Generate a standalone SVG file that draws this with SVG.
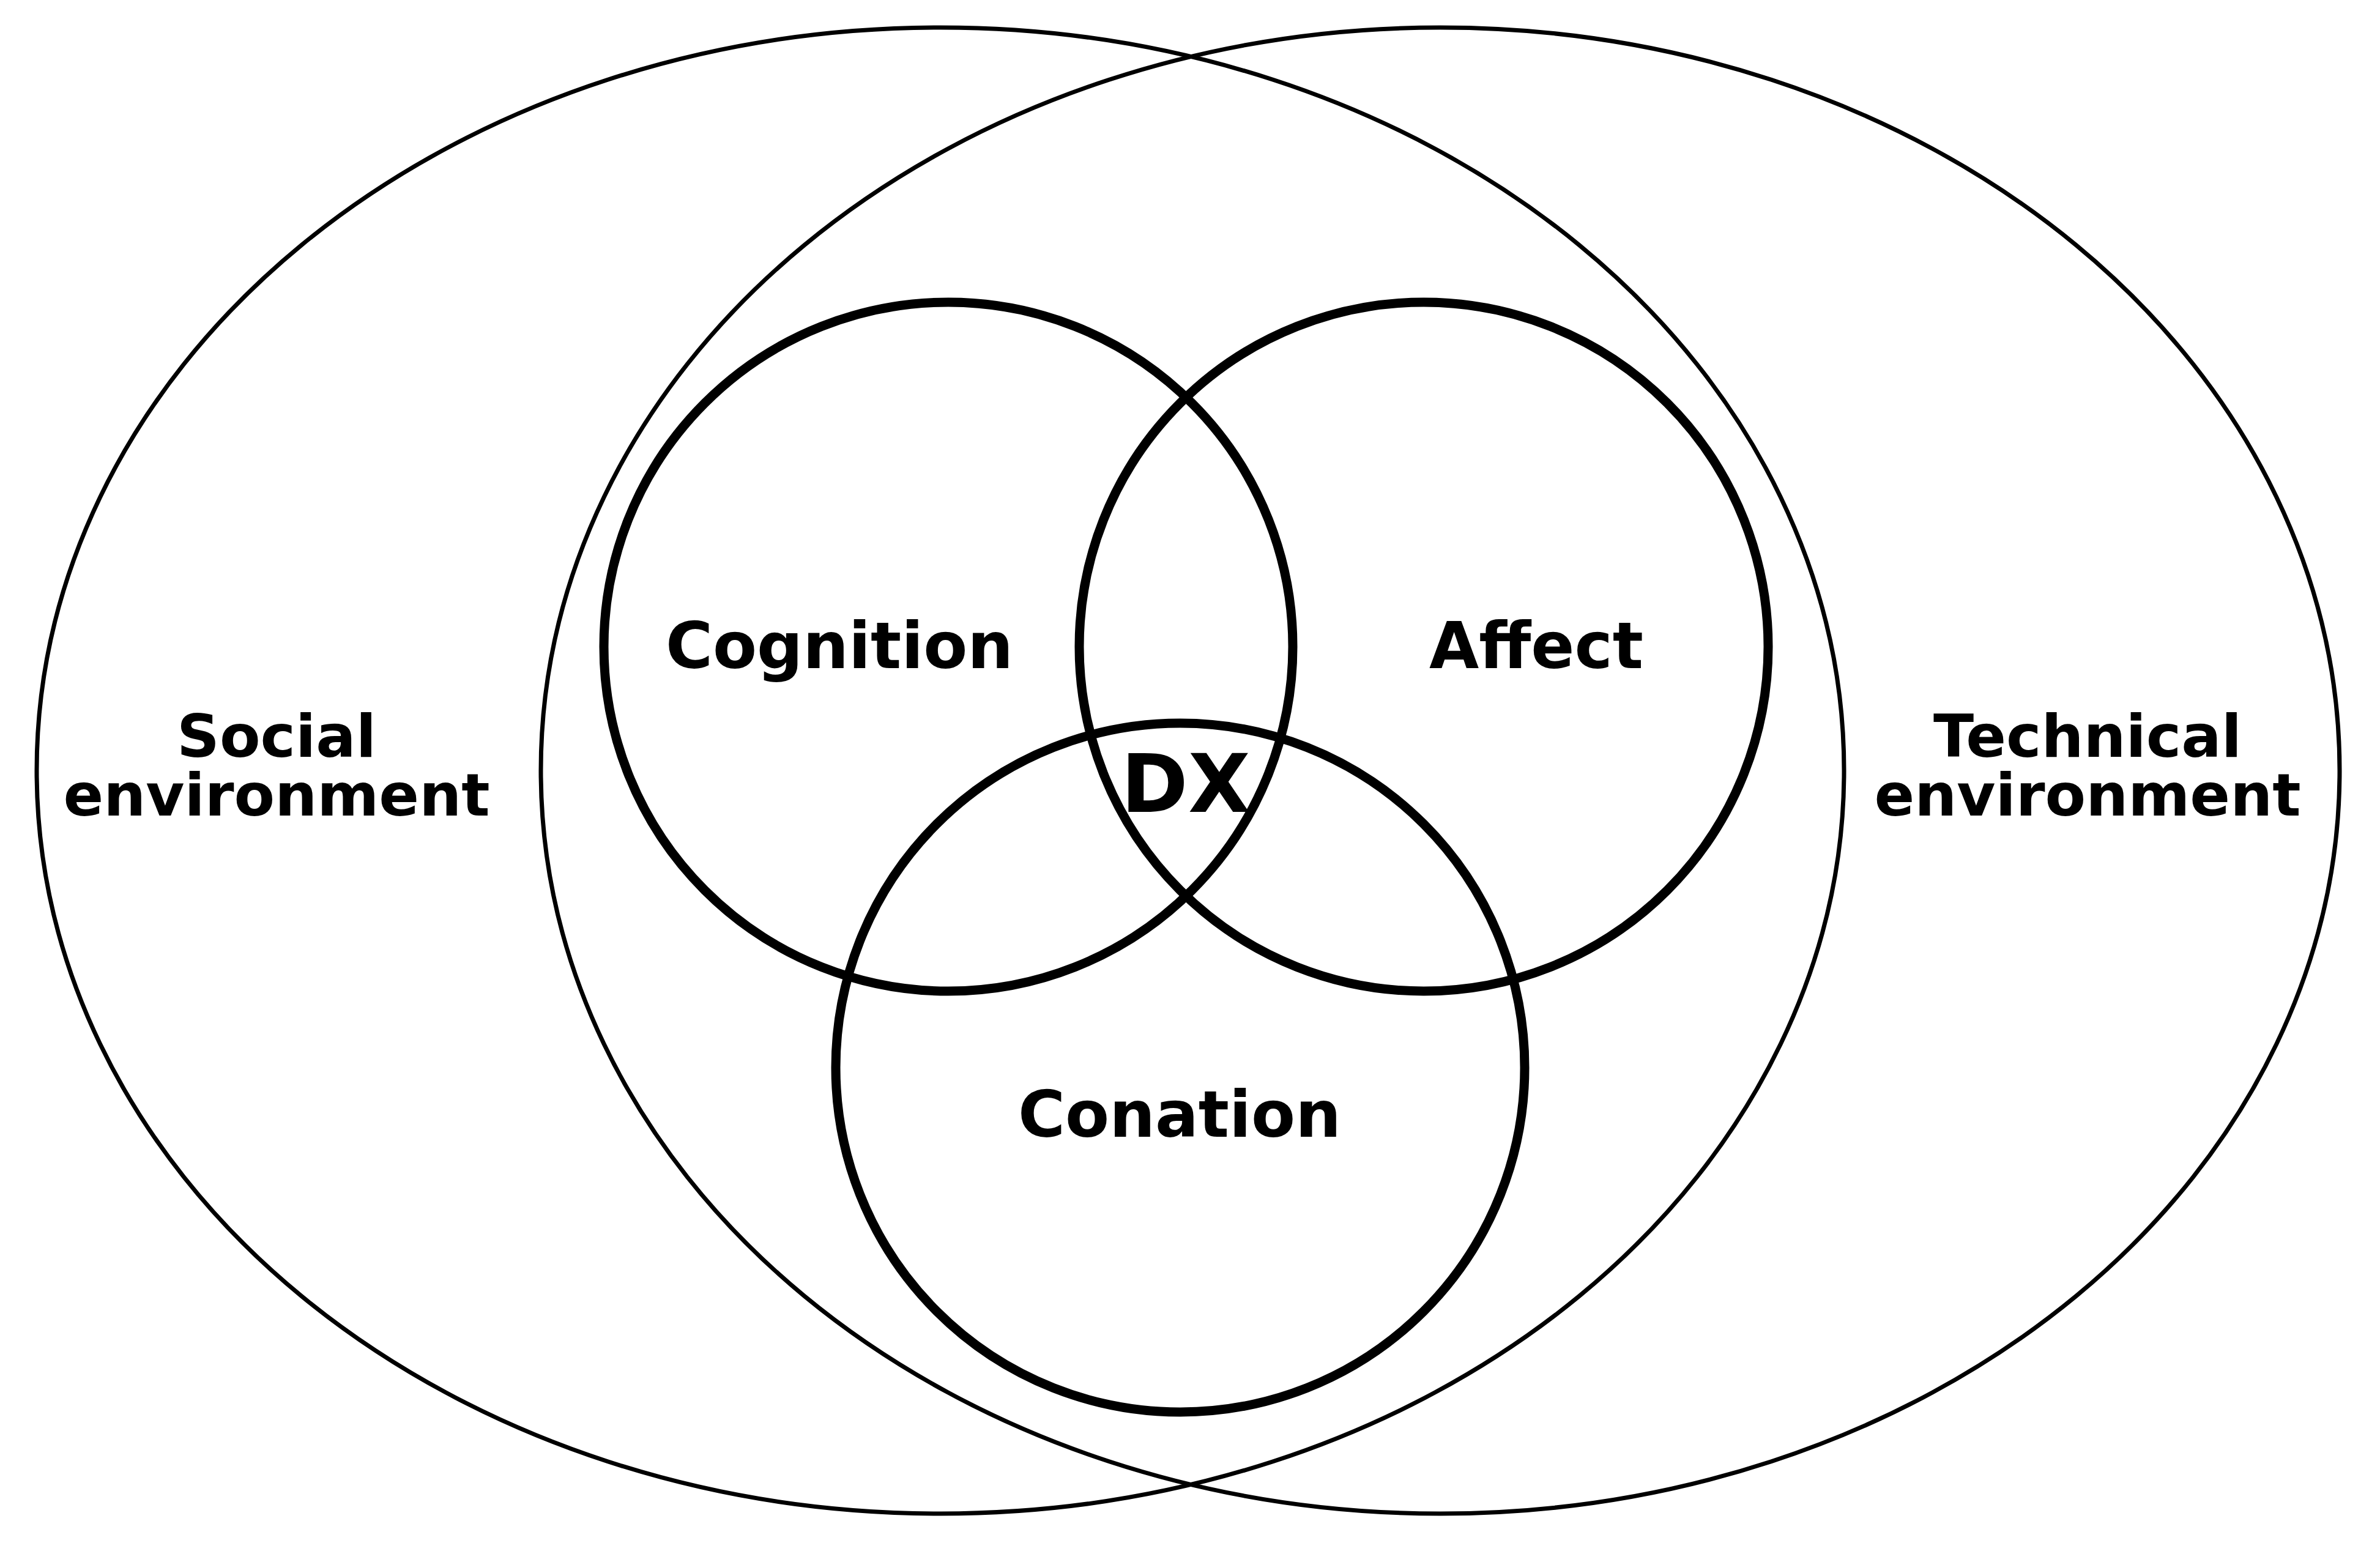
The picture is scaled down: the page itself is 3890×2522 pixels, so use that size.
<svg xmlns="http://www.w3.org/2000/svg" width="3890" height="2522" viewBox="0 0 3890 2522">
<style>
.env{fill:none;stroke:#000;stroke-width:7}
.dim{fill:none;stroke:#000;stroke-width:15}
text{font-family:"DejaVu Sans","Liberation Sans",sans-serif;font-weight:bold;fill:#000;text-anchor:middle}
.lab{font-size:105px}
.envt{font-size:97px}
.dx{font-size:132px}
</style>
<rect width="3890" height="2522" fill="#fff"/>
<g id="social-environment">
<ellipse class="env" cx="1537" cy="1259.5" rx="1477" ry="1214.5"/>
<text class="envt" x="452" y="1237">Social</text>
<text class="envt" x="452" y="1333">environment</text>
</g>
<g id="technical-environment">
<ellipse class="env" cx="2354" cy="1259.5" rx="1470" ry="1214.5"/>
<text class="envt" x="3412" y="1237">Technical</text>
<text class="envt" x="3412" y="1333">environment</text>
</g>
<g id="cognition">
<circle class="dim" cx="1550" cy="1057" r="563"/>
<text class="lab" x="1372" y="1092">Cognition</text>
</g>
<g id="affect">
<circle class="dim" cx="2327" cy="1057" r="563"/>
<text class="lab" x="2511" y="1092">Affect</text>
</g>
<g id="conation">
<circle class="dim" cx="1929" cy="1745" r="563"/>
<text class="lab" x="1928" y="1858">Conation</text>
</g>
<g id="dx">
<text class="dx" x="1938" y="1327">DX</text>
</g>
<g id="connectors"></g>
</svg>
